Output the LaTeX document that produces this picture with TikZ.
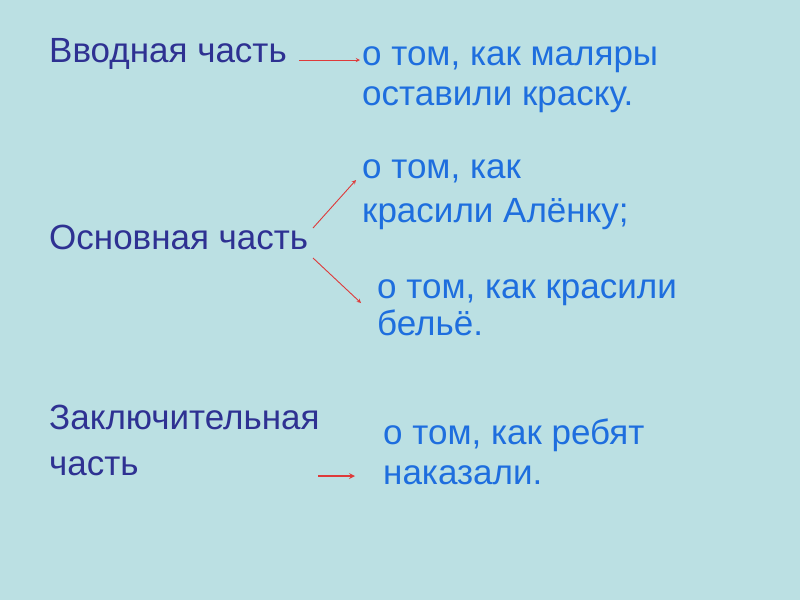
\documentclass[tikz,border=0pt]{standalone}
\usepackage{fontspec}
\setmainfont{Liberation Sans}
\usepackage{xcolor}
\usepackage{tikz}
\usetikzlibrary{calc, positioning}

\definecolor{fond}{RGB}{187,224,227}
\definecolor{partie}{RGB}{46,49,146}
\definecolor{resume}{RGB}{30,110,222}
\definecolor{fleche}{RGB}{222,58,58}

\tikzset{
    partie/.style={anchor=base west, inner sep=0pt, text=partie, align=left,
        font=\fontsize{35}{46}\selectfont},
    resume/.style={anchor=base west, inner sep=0pt, text=resume, align=left,
        font=\fontsize{35}{40}\selectfont},
    lien/.style={->, draw=fleche, line width=0.9pt}
}

\begin{document}
\begin{tikzpicture}[>=stealth, x=1pt, y=-1pt]
    \fill[fond] (0,0) rectangle (800,600);
    \useasboundingbox (0,0) rectangle (800,600);

    % parties du texte (base de la derniere ligne)
    \node[partie] (intro) at (49,62) {Вводная часть};
    \node[partie] (corps) at (49,249) {Основная часть};
    \node[partie] (fin) at (49,475) {Заключительная\\часть};

    % resumes
    \node[resume] (peintres) at (362,105) {о том, как маляры\\оставили краску.};
    \node[resume, font=\fontsize{35}{44}\selectfont] (alenka) at (362,222)
        {о том, как\\красили Алёнку;};
    \node[resume, font=\fontsize{35}{37}\selectfont] (linge) at (377,335)
        {о том, как красили\\бельё.};
    \node[resume] (enfants) at (383,484) {о том, как ребят\\наказали.};

    \coordinate (a1) at (299,60);  \coordinate (b1) at (360,60);
    \coordinate (a2) at (313,228); \coordinate (b2) at (356,180);
    \coordinate (a3) at (313,258); \coordinate (b3) at (361,303);
    \coordinate (a4) at (318,476); \coordinate (b4) at (355,476);

    \draw[lien] (a1) -- (b1);
    \draw[lien] (a2) -- (b2);
    \draw[lien] (a3) -- (b3);
    \draw[lien, line width=1.6pt] (a4) -- (b4);
\end{tikzpicture}
\end{document}
